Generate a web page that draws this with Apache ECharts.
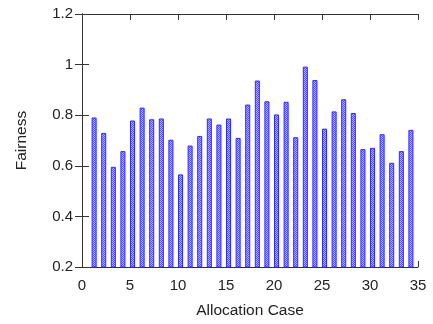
<!DOCTYPE html>
<html>
<head>
<meta charset="utf-8">
<script src="https://cdn.jsdelivr.net/npm/echarts@6/dist/echarts.min.js"></script>
<style>
  html, body { margin: 0; padding: 0; background: #fff; }
  #chart { width: 433px; height: 324px; }
</style>
</head>
<body>
<div id="chart"></div>
<script>
// allocation case ids and fairness values
const cases = [1, 2, 3, 4, 5, 6, 7, 8, 9, 10, 11, 12, 13, 14, 15, 16, 17,
  18, 19, 20, 21, 22, 23, 24, 25, 26, 27, 28, 29, 30, 31, 32, 33, 34]
const fairness = [0.789, 0.728, 0.594, 0.656, 0.777, 0.828, 0.782, 0.785, 0.701, 0.564,
  0.678, 0.716, 0.785, 0.761, 0.785, 0.708, 0.840, 0.935, 0.853, 0.801,
  0.851, 0.711, 0.990, 0.937, 0.745, 0.813, 0.861, 0.807, 0.664, 0.669,
  0.723, 0.610, 0.656, 0.740]
const xTicks = [0, 5, 10, 15, 20, 25, 30, 35]
const yTicks = [0.2, 0.4, 0.6, 0.8, 1, 1.2]

// checkered fill like the gnuplot pattern
const pat = document.createElement('canvas')
pat.width = 2
pat.height = 2
const pctx = pat.getContext('2d')
pctx.fillStyle = '#b8b8ff'
pctx.fillRect(0, 0, 2, 2)
pctx.fillStyle = '#5050ff'
pctx.fillRect(0, 0, 1, 1)
pctx.fillRect(1, 1, 1, 1)

const chart = echarts.init(document.getElementById('chart'))
const axisLine = { show: true, lineStyle: { color: '#333', width: 1 } }
const font = 'Liberation Sans'

chart.setOption({
  animation: false,
  backgroundColor: '#fff',
  grid: { left: 82, right: 15, top: 14, bottom: 57 },
  xAxis: [
    {
      type: 'value', min: xTicks[0], max: xTicks[xTicks.length - 1], interval: 5,
      name: 'Allocation Case', nameLocation: 'middle', nameGap: 36,
      nameTextStyle: { fontFamily: font, fontSize: 15.5, color: '#222' },
      axisLine,
      axisTick: { inside: true, length: 6, lineStyle: { color: '#333' } },
      axisLabel: { fontFamily: font, fontSize: 15, color: '#222', margin: 11 },
      splitLine: { show: false },
    },
    {
      type: 'value', position: 'top', min: xTicks[0], max: xTicks[xTicks.length - 1], interval: 5,
      axisLine,
      axisTick: { inside: true, length: 6, lineStyle: { color: '#333' } },
      axisLabel: { show: false },
      splitLine: { show: false },
    },
  ],
  yAxis: [
    {
      type: 'value', min: yTicks[0], max: yTicks[yTicks.length - 1], interval: 0.2,
      name: 'Fairness', nameLocation: 'middle', nameGap: 52,
      nameTextStyle: { fontFamily: font, fontSize: 15.5, color: '#222' },
      axisLine,
      axisTick: { inside: true, length: 7, lineStyle: { color: '#333' } },
      axisLabel: { fontFamily: font, fontSize: 15, color: '#222', margin: 9 },
      splitLine: { show: false },
    },
    {
      type: 'value', position: 'right', min: yTicks[0], max: yTicks[yTicks.length - 1], interval: 0.2,
      axisLine,
      axisTick: { inside: true, length: 7, lineStyle: { color: '#333' } },
      axisLabel: { show: false },
      splitLine: { show: false },
    },
  ],
  series: [
    {
      type: 'custom',
      data: cases.map((c, i) => [c, fairness[i]]),
      encode: { x: 0, y: 1 },
      renderItem(params, api) {
        const x = api.value(0)
        const top = api.coord([x, api.value(1)])
        const base = api.coord([x, yTicks[0]])
        const w = api.size([0.42, 0])[0]
        return {
          type: 'rect',
          shape: { x: top[0] + 0.5, y: top[1], width: w, height: base[1] - top[1] },
          style: { fill: { image: pat, repeat: 'repeat' }, stroke: '#2a2aff', lineWidth: 1 },
        }
      },
      z: 1,
    },
  ],
})
</script>
</body>
</html>
